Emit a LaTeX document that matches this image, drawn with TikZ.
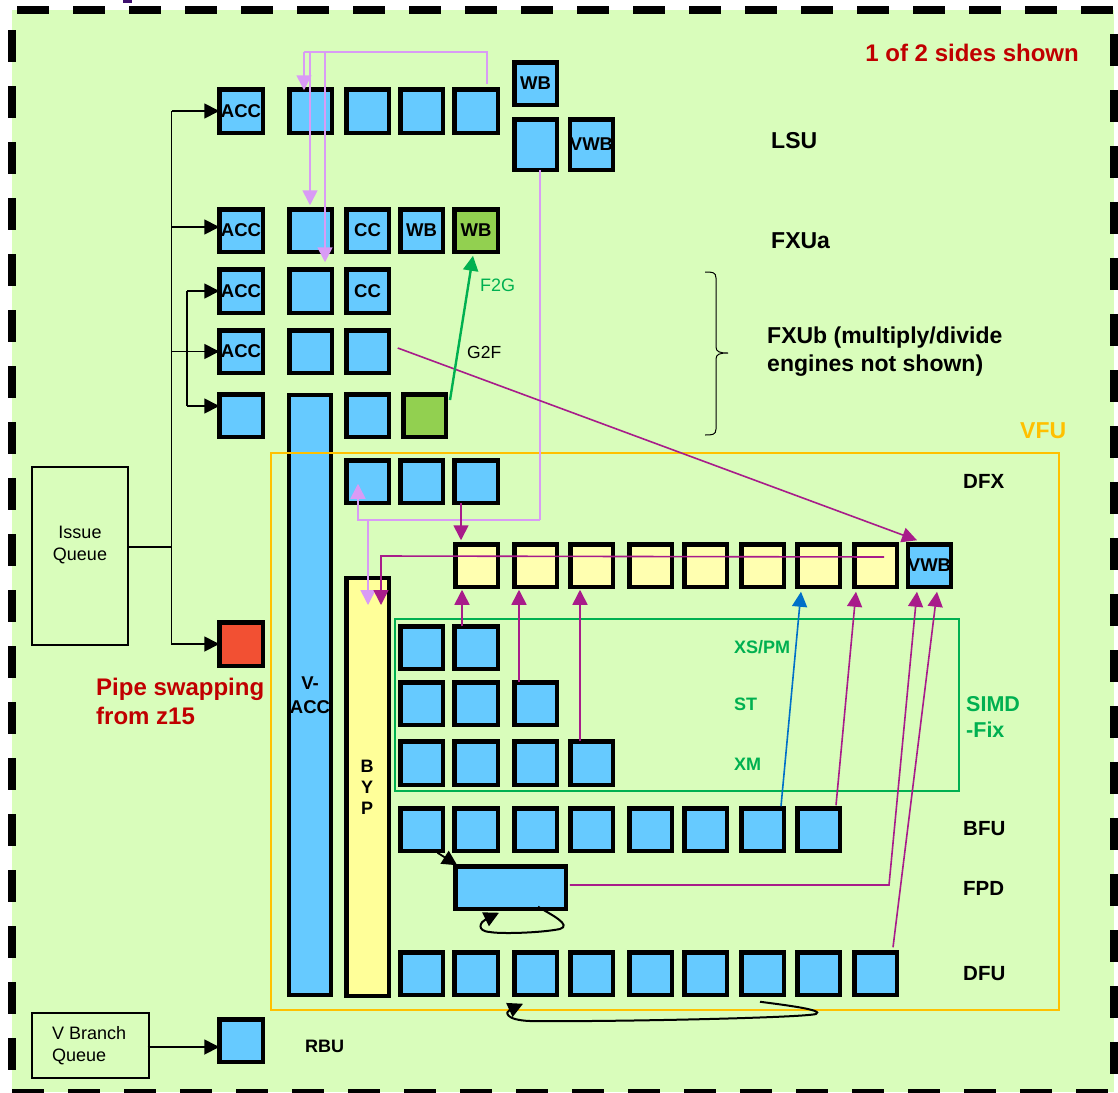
\documentclass[tikz,border=0pt]{standalone}
\usepackage{fontspec}
\setmainfont{Liberation Sans}
\usetikzlibrary{arrows.meta,calc}
\definecolor{bgGreen}{HTML}{D9FDBB}
\definecolor{cellBlue}{HTML}{66CAFF}
\definecolor{cellYellow}{HTML}{FFFFB0}
\definecolor{bypYellow}{HTML}{FFFF99}
\definecolor{cellGreen}{HTML}{92D050}
\definecolor{cellRed}{HTML}{F25033}
\definecolor{lilac}{HTML}{D99BF5}
\definecolor{magentaLn}{HTML}{A81C8A}
\definecolor{greenLn}{HTML}{00B050}
\definecolor{blueLn}{HTML}{0070C8}
\definecolor{orangeLn}{HTML}{FFC000}
\definecolor{darkRed}{HTML}{C00000}
\definecolor{markPurple}{HTML}{3F0F6F}
\newcommand{\bx}[7][cellBlue]{\node[cell,fill=#1,minimum width={#4-#2-4.5},minimum height={#5-#3-4.5}] (#6) at ({(#2+#4)/2},{(#3+#5)/2}) {#7};}
\newcommand{\fsz}[1]{\fontsize{#1}{#1}\selectfont}
\tikzset{
  x=1pt,y=-1pt,
  cell/.style={draw=black,line width=4.5pt,inner sep=0pt,outer sep=0pt,font=\fsz{18.5}\bfseries,text=black},
  qbox/.style={draw=black,line width=1.1pt,inner sep=0pt},
  qtxt/.style={inner sep=0pt,align=left,font=\fsz{18}},
  lab/.style={inner sep=0pt,font=\fsz{23}\bfseries,align=left},
  unit/.style={inner sep=0pt,anchor=west,font=\fsz{20.5}\bfseries},
  gtxt/.style={inner sep=0pt,anchor=west,font=\fsz{18}\bfseries,text=greenLn},
  blk/.style={draw=black,line width=1.8pt,-{Triangle[length=15pt,width=15pt]}},
  blkn/.style={draw=black,line width=1.8pt},
  lil/.style={draw=lilac,line width=1.6pt},
  lilA/.style={lil,-{Triangle[length=15pt,width=15pt]}},
  mag/.style={draw=magentaLn,line width=1.6pt,-{Triangle[length=15pt,width=15pt]}},
  dashH/.style={black,line width=8pt,dash pattern=on 32pt off 24pt},
}
\begin{document}
\begin{tikzpicture}
\useasboundingbox (0,0) rectangle (1118,1092);
\fill[bgGreen] (12,10) rectangle (1114,1092);
\fill[markPurple] (123,0) rectangle (132,3);
% dashed frame
\draw[dashH] (17,10) -- (1118,10);
\draw[dashH] (12,1093) -- (1118,1093);
\draw[dashH] (12,30) -- (12,1080);
\draw[dashH] (1114,34) -- (1114,1080);
% queues
\node[qbox,minimum width=96pt,minimum height=178pt] (iq) at (80,556) {};
\node[qtxt,align=center] (iqt) at (80,545) {Issue\\[4pt]Queue};
\node[qbox,minimum width=117pt,minimum height=65pt] (vbq) at (90.5,1045.5) {};
\node[qtxt,anchor=west] (vbt) at (52,1046) {V Branch\\[4pt]Queue};
% LSU
\bx{217}{87}{265}{135}{a1}{ACC}
\bx{287}{87}{334}{135}{l1}{}
\bx{344}{87}{391}{135}{l2}{}
\bx{398}{87}{445}{135}{l3}{}
\bx{452}{87}{500}{135}{l4}{}
\bx{512}{60}{559}{107}{lw}{WB}
\bx{512}{117}{559}{172}{l5}{}
\bx{568}{117}{615}{172}{lv}{VWB}
% FXUa
\bx{217}{207}{265}{254}{a2}{ACC}
\bx{287}{207}{334}{254}{f1}{}
\bx{344}{207}{391}{254}{f2}{CC}
\bx{398}{207}{445}{254}{f3}{WB}
\bx[cellGreen]{452}{207}{500}{254}{f4}{WB}
% FXUb
\bx{217}{267}{265}{315}{a3}{ACC}
\bx{287}{267}{334}{315}{b1}{}
\bx{344}{267}{391}{315}{b2}{CC}
\bx{217}{328}{265}{375}{a4}{ACC}
\bx{287}{328}{334}{375}{c1}{}
\bx{344}{328}{391}{375}{c2}{}
\bx{217}{392}{265}{439}{a5}{}
\bx{344}{392}{391}{439}{d2}{}
\bx[cellGreen]{401}{392}{448}{439}{d3}{}
% V-ACC and BYP
\node[cell,fill=cellBlue,minimum width=42pt,minimum height=600pt,align=center] (vacc) at (310,695) {V-\\[5pt]ACC};
\node[cell,fill=bypYellow,minimum width=42.5pt,minimum height=418pt] (byp) at (367.5,787) {};
\node[font=\fsz{18}\bfseries,align=center,inner sep=0pt] (byptext) at (367,787) {B\\[3pt]Y\\[3pt]P};
% DFX
\bx{344}{458}{391}{505}{x1}{}
\bx{398}{458}{445}{505}{x2}{}
\bx{452}{458}{500}{505}{x3}{}
% yellow row
\bx[cellYellow]{453}{542}{500}{589}{y1}{}
\bx[cellYellow]{512}{542}{559}{589}{y2}{}
\bx[cellYellow]{568}{542}{615}{589}{y3}{}
\bx[cellYellow]{627}{542}{674}{589}{y4}{}
\bx[cellYellow]{682}{542}{729}{589}{y5}{}
\bx[cellYellow]{739}{542}{786}{589}{y6}{}
\bx[cellYellow]{795}{542}{842}{589}{y7}{}
\bx[cellYellow]{852}{542}{899}{589}{y8}{}
\bx{906}{542}{953}{589}{vw}{VWB}
% red
\bx[cellRed]{217}{620}{265}{668}{red}{}
% SIMD
\bx{398}{624}{445}{671}{s11}{}
\bx{452}{624}{500}{671}{s12}{}
\bx{398}{680}{445}{727}{s21}{}
\bx{452}{680}{500}{727}{s22}{}
\bx{512}{680}{559}{727}{s23}{}
\bx{398}{739}{445}{787}{s31}{}
\bx{452}{739}{500}{787}{s32}{}
\bx{512}{739}{559}{787}{s33}{}
\bx{568}{739}{615}{787}{s34}{}
% BFU
\bx{398}{806}{445}{853}{bf1}{}
\bx{452}{806}{500}{853}{bf2}{}
\bx{512}{806}{559}{853}{bf3}{}
\bx{568}{806}{615}{853}{bf4}{}
\bx{627}{806}{674}{853}{bf5}{}
\bx{682}{806}{729}{853}{bf6}{}
\bx{739}{806}{786}{853}{bf7}{}
\bx{795}{806}{842}{853}{bf8}{}
% FPD
\bx{453}{864}{568}{911}{fpd}{}
% DFU
\bx{398}{950}{445}{997}{df1}{}
\bx{452}{950}{500}{997}{df2}{}
\bx{512}{950}{559}{997}{df3}{}
\bx{568}{950}{615}{997}{df4}{}
\bx{627}{950}{674}{997}{df5}{}
\bx{682}{950}{729}{997}{df6}{}
\bx{739}{950}{786}{997}{df7}{}
\bx{795}{950}{842}{997}{df8}{}
\bx{852}{950}{899}{997}{df9}{}
% RBU
\bx{217}{1017}{265}{1064}{rb}{}
% region frames
\node[draw=orangeLn,line width=2.6pt,minimum width=788pt,minimum height=557pt,inner sep=0pt] (vfu) at (665,731.5) {};
\node[draw=greenLn,line width=2.6pt,minimum width=564pt,minimum height=172pt,inner sep=0pt] (simd) at (677,705) {};
% issue trunk
\coordinate (tr) at (171.5,547);
\draw[blkn] (iq.east |- tr) -- (tr);
\draw[blk] (171.5,111) -- (a1.west);
\draw[blkn] (171.5,111) -- (171.5,645);
\draw[blk] (171.5,227) -- ([yshift=3.5]a2.west);
\draw[blk] (171.5,644) -- (red.west);
\draw[blk] (171.5,351.5) -- (a4.west);
\draw[blkn] (187,291) -- (187,406);
\draw[blk] (187,291) -- (a3.west);
\draw[blk] (187,406) -- ([yshift=9.5]a5.west);
\draw[blk] (vbq.east |- rb.west) ++(-2,6.5) -- ([yshift=-6.5]rb.west);
% lilac upper
\coordinate (pt) at (304,52);
\draw[lil] ([xshift=11,yshift=5]l4.north) |- (pt);
\draw[lilA] (pt) -- ([xshift=-6.5,yshift=-1]l1.north);
\draw[lilA] (310,52) -- ([xshift=-0.5,yshift=4]f1.north);
\draw[lilA] (325,52) -- ([xshift=14.5,yshift=7]b1.north);
% lilac lower
\coordinate (pc) at (540,520);
\draw[lil] (l5.south -| pc) -- (pc);
\draw[lilA] (pc) -| ([xshift=-9.5,yshift=19]x1.south);
\draw[lilA] (368,520) -- ([xshift=0.5,yshift=-27]byp.north);
% magenta
\draw[mag] ([xshift=-15]x3.south) -- ([xshift=-15.5,yshift=4]y1.north);
\coordinate (ye) at (884,557);
\draw[mag] (ye) -- (381,556) -- ([xshift=13.5,yshift=-27]byp.north);
\draw[mag] ([xshift=-14]s12.north) -- ([xshift=-14.5,yshift=-3]y1.south);
\draw[mag] ([xshift=-16.5]s23.north) -- ([xshift=-16.5,yshift=-3]y2.south);
\draw[mag] ([xshift=-11.5]s34.north) -- ([xshift=-11.5,yshift=-3]y3.south);
\draw[blueLn,line width=1.6pt,-{Triangle[length=15pt,width=15pt]}] ([xshift=18.5,yshift=2]bf7.north) -- ([xshift=38.5,yshift=-5]y6.south);
\draw[mag] ([xshift=17.5,yshift=3]bf8.north) -- ([xshift=37.5,yshift=-5]y7.south);
\draw[mag] ([xshift=4,yshift=2.5]fpd.east) -- (889,885) -- ([xshift=-12.5,yshift=-5]vw.south);
\draw[mag] ([xshift=17.5,yshift=5]df9.north) -- ([xshift=7.5,yshift=-5]vw.south);
\draw[mag] ([xshift=9,yshift=3.5]c2.east) -- ([xshift=-12.5,yshift=4]vw.north);
% green F2G
\draw[greenLn,line width=2.4pt,-{Triangle[length=15pt,width=15pt]}] ([xshift=25.5,yshift=15.5]d3.center) -- ([xshift=-3,yshift=-4]f4.south);
% small black
\draw[blk] ([xshift=16,yshift=-2]bf1.south) -- ([xshift=2,yshift=1]fpd.north west);
\draw[blk,line width=2pt] ([xshift=27.5,yshift=2]fpd.south) .. controls (552,915) and (572,925) .. (560,929) .. controls (540,933) and (500,934) .. (490,932) .. controls (476,931) and (480,922) .. ([xshift=-11.5,yshift=-4]fpd.south);
\draw[blk,line width=2pt] ([xshift=-2.5,yshift=-7]df7.south) .. controls (785,1005) and (825,1010) .. (816,1014) .. controls (800,1018) and (600,1022) .. (530,1021) .. controls (505,1020) and (505,1012) .. ([xshift=-12.5,yshift=-9]df3.south);
% brace
\coordinate (br) at (728,353);
\draw[black,line width=1pt] (705,272) .. controls (712,272) and (716,272) .. (716,278) -- (716,347) .. controls (716,352) and (720,353) .. (br) .. controls (720,353) and (716,354) .. (716,359) -- (716,429) .. controls (716,435) and (712,435) .. (705,435);
% labels
\node[lab,font=\fsz{24}\bfseries,text=darkRed,anchor=east] (t1) at (1079,53) {1 of 2 sides shown};
\node[lab,anchor=west] (t2) at (771,141) {LSU};
\node[lab,anchor=west] (t3) at (771,241) {FXUa};
\node[lab,anchor=west] (t4) at (767,352) {FXUb (multiply/divide\\[5pt]engines not shown)};
\node[lab,text=orangeLn,anchor=west] (t5) at (1020,431) {VFU};
\node[unit] (t6) at (963,481) {DFX};
\node[unit] (t7) at (963,829) {BFU};
\node[unit] (t8) at (963,888) {FPD};
\node[unit] (t9) at (963,974) {DFU};
\node[unit,font=\fsz{18}\bfseries] (t10) at (305,1046) {RBU};
\node[gtxt] (t11) at (734,647) {XS/PM};
\node[gtxt] (t12) at (734,704) {ST};
\node[gtxt] (t13) at (734,764) {XM};
\node[lab,font=\fsz{21.5}\bfseries,text=greenLn,anchor=west] (t14) at (966,717) {SIMD\\[5pt]-Fix};
\node[lab,font=\fsz{24}\bfseries,text=darkRed,anchor=west] (t15) at (96,701) {Pipe swapping\\[5pt]from z15};
\node[font=\fsz{18},text=greenLn,inner sep=0pt,anchor=west] (t16) at (480,285) {F2G};
\node[font=\fsz{17.5},inner sep=0pt,anchor=west] (t17) at (467,352) {G2F};
\end{tikzpicture}
\end{document}
